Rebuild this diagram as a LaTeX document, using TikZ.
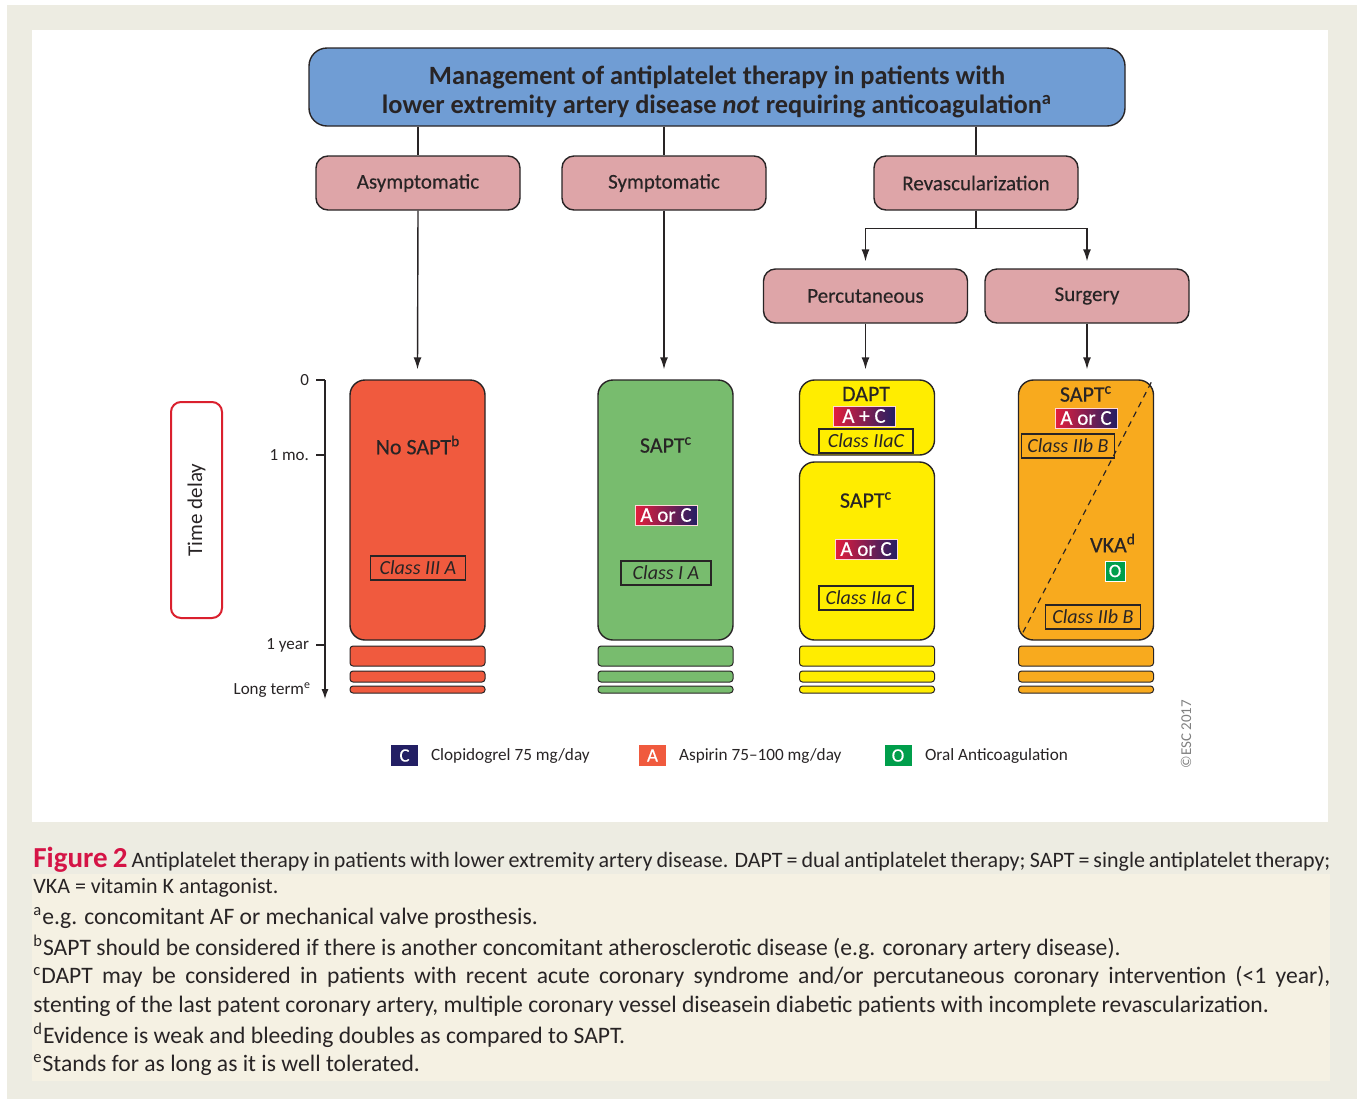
\documentclass[tikz,border=0pt]{standalone}
\usepackage{fontspec}
\setmainfont{Carlito}
\newfontfamily\medfont{Carlito}[FakeBold=0.35]
\usepackage{xcolor}
\usepackage{tikz}
\usetikzlibrary{shapes,arrows,positioning,calc,arrows.meta}
\definecolor{ink}{RGB}{40,36,37}
\definecolor{framebg}{RGB}{237,236,226}
\definecolor{creambg}{RGB}{245,241,227}
\definecolor{titleblue}{RGB}{112,157,212}
\definecolor{catpink}{RGB}{222,165,168}
\definecolor{redcol}{RGB}{240,90,62}
\definecolor{greencol}{RGB}{120,188,110}
\definecolor{yellowcol}{RGB}{255,237,0}
\definecolor{orangecol}{RGB}{248,170,30}
\definecolor{navy}{RGB}{35,31,100}
\definecolor{badgered}{RGB}{228,30,60}
\definecolor{oagreen}{RGB}{0,158,75}
\definecolor{delayred}{RGB}{218,32,46}
\definecolor{figred}{RGB}{213,20,70}

\begin{document}
\begin{tikzpicture}[x=0.5pt,y=-0.5pt,
    every node/.style={text=ink},
    link/.style={draw=ink, line width=0.7pt},
    arr/.style={link, -{Latex[length=6pt,width=4pt]}},
    catbox/.style={draw=ink, line width=0.7pt, fill=catpink, rounded corners=6pt,
        minimum width=102pt, minimum height=27pt, font=\medfont\fontsize{10.5}{12}\selectfont},
    blk/.style={draw=ink, line width=0.7pt, rounded corners=7.5pt, minimum width=67.5pt, inner sep=0pt},
    stripe/.style={draw=ink, line width=0.5pt, rounded corners=1.5pt, minimum width=67.5pt, inner sep=0pt},
    drug/.style={font=\medfont\fontsize{11}{12}\selectfont},
    badge/.style={left color=badgered, right color=navy, draw=pink!60, line width=0.4pt,
        text=white, minimum width=31pt, minimum height=10pt, inner sep=0pt, font=\medfont\fontsize{10.5}{10}\selectfont},
    classbox/.style={draw=ink, line width=0.6pt, minimum width=47.5pt, minimum height=12pt,
        inner sep=0pt, font=\fontsize{10}{10}\itshape\selectfont},
    keysq/.style={minimum width=13.5pt, minimum height=10.5pt, inner sep=0pt, text=white,
        font=\medfont\fontsize{9.5}{10}\selectfont},
    keytxt/.style={anchor=west, font=\fontsize{8.6}{10}\selectfont},
    tick/.style={anchor=east, font=\fontsize{8.5}{10}\selectfont},
    capline/.style={anchor=west, inner sep=0pt, font=\fontsize{11}{12}\selectfont},
    noteline/.style={capline, font=\fontsize{11.8}{12}\selectfont}
]
\useasboundingbox (0,0) rectangle (1357,1099);
\fill[white] (0,0) rectangle (1357,1099);
\fill[framebg] (7,5) rectangle (1357,1099);
\fill[white] (32,30) rectangle (1328,822);
\fill[creambg] (32,874) rectangle (1330,1081);

\node[draw=ink, line width=0.7pt, fill=titleblue, rounded corners=9pt, minimum width=408pt,
    minimum height=39pt] (title) at (717,87) {};
\node[align=center, font=\fontsize{13.2}{14.5}\bfseries\selectfont] (titletxt) at (717,92)
    {Management of antiplatelet therapy in patients with\\
     lower extremity artery disease \textit{not} requiring anticoagulation\textsuperscript{a}};

\node[catbox] (asym) at (418,183) {Asymptomatic};
\node[catbox] (sym) at (664,183) {Symptomatic};
\node[catbox] (revasc) at (976,183) {Revascularization};
\node[catbox] (perc) at (865.5,296) {Percutaneous};
\node[catbox] (surg) at (1087,296) {Surgery};

\node[blk, fill=redcol, minimum height=130pt] (redblk) at (417.5,510) {};
\node[blk, fill=greencol, minimum height=130pt] (greenblk) at (665.5,510) {};
\node[blk, fill=yellowcol, minimum height=37.5pt] (dapblk) at (867,417.5) {};
\node[blk, fill=yellowcol, minimum height=89pt] (sapblk) at (867,551) {};
\node[blk, fill=orangecol, minimum height=130pt] (surblk) at (1086,510) {};

\foreach \c/\col in {417.5/redcol, 665.5/greencol, 867/yellowcol, 1086/orangecol}
    \foreach \y/\h [count=\i] in {656/10pt, 676.5/5.5pt, 689.5/3.5pt}
        \node[stripe, fill=\col, minimum height=\h] (s\c-\i) at (\c,\y) {};

\draw[link] (title.south -| asym.north) -- (asym.north);
\draw[link] (title.south -| sym.north) -- (sym.north);
\draw[link] (title.south -| revasc.north) -- (revasc.north);
\draw[arr] (asym.south) -- ([yshift=5pt]redblk.north);
\draw[arr] (sym.south) -- ([yshift=5pt]greenblk.north -| sym.south);
\draw[arr, shorten >=3.5pt] (revasc.south) -- ++(0,18) -| (perc.north);
\draw[arr, shorten >=3.5pt] (revasc.south) -- ++(0,18) -| (surg.north);
\draw[arr] (perc.south) -- ([yshift=5pt]dapblk.north -| perc.south);
\draw[arr] (surg.south) -- ([yshift=5pt]surblk.north -| surg.south);

\node[drug] (nosapt) at (418,445) {No SAPT\textsuperscript{b}};
\node[classbox] (cls1) at (418,568) {Class III A};

\node[drug] (sapt2) at (666,445) {SAPT\textsuperscript{c}};
\node[badge] (bd2) at (666,515) {A or C};
\node[classbox, minimum width=45pt] (cls2) at (666,573) {Class I A};

\node[drug] (dapt3) at (866,394) {DAPT};
\node[badge] (bd3a) at (864,416) {A + C};
\node[classbox, minimum width=47pt] (cls3a) at (866,441) {Class IIaC};
\node[drug] (sapt3) at (866,500) {SAPT\textsuperscript{c}};
\node[badge] (bd3b) at (866,549) {A or C};
\node[classbox, minimum width=47pt] (cls3b) at (866,598) {Class IIa C};

\draw[ink, line width=0.6pt, dash pattern=on 3pt off 2.5pt]
    ($(surblk.north east)+(-3,3)$) -- ($(surblk.south west)+(5,-8)$);
\node[drug] (sapt4) at (1086,394) {SAPT\textsuperscript{c}};
\node[badge] (bd4) at (1086,418) {A or C};
\node[classbox, minimum width=46.5pt] (cls4a) at (1068,446) {Class IIb B};
\node[drug] (vka) at (1113,543) {VKA\textsuperscript{d}};
\node[fill=oagreen, draw=white, line width=0.4pt, minimum size=10pt, inner sep=0pt, text=white,
    font=\medfont\fontsize{9.5}{10}\selectfont] (oa4) at (1115,571) {O};
\node[classbox] (cls4b) at (1093,617) {Class IIb B};

\node[draw=delayred, line width=1pt, fill=white, rounded corners=5pt, minimum width=25.5pt,
    minimum height=108pt] (delay) at (196.5,510) {};
\node[rotate=90, font=\fontsize{10.5}{12}\selectfont] (delaytxt) at (delay) {Time delay};

\coordinate (ax0) at (325,380);
\coordinate (axend) at (325,699);
\draw[link, line width=0.6pt, -{Latex[length=5pt,width=3.5pt]}] (ax0) -- (axend);
\foreach \y/\t [count=\i] in {380/0, 455/1 mo., 645/1 year} {
    \node[tick] (tk\i) at (316,\y) {\t};
    \draw[link, line width=0.6pt] (tk\i.east) -- (tk\i.east -| ax0);
}
\node[tick] (tklong) at (318,690) {Long term\textsuperscript{e}};

\node[keysq, fill=navy] (keyc) at (404.5,755.5) {C};
\node[keytxt] (keyctxt) at (424,756) {Clopidogrel 75 mg/day};
\node[keysq, fill=redcol] (keya) at (652.5,755.5) {A};
\node[keytxt] (keyatxt) at (672,756) {Aspirin 75–100 mg/day};
\node[keysq, fill=oagreen] (keyo) at (898,755.5) {O};
\node[keytxt] (keyotxt) at (918,756) {Oral Anticoagulation};
\node[rotate=90, text=gray, font=\fontsize{7.5}{8}\selectfont] (esc) at (1186,734) {©ESC 2017};

\node[capline] (cap1) at (33,860) {\makebox[648.5pt][s]{\textcolor{figred}{\fontsize{14.5}{14}\bfseries\selectfont Figure 2} Antiplatelet therapy in patients with lower extremity artery disease. DAPT = dual antiplatelet therapy; SAPT = single antiplatelet therapy;}};
\node[capline] (cap2) at (33,888) {VKA = vitamin K antagonist.};
\node[noteline] (cap3) at (33,918) {\textsuperscript{a}e.g. concomitant AF or mechanical valve prosthesis.};
\node[noteline] (cap4) at (33,947) {\textsuperscript{b}SAPT should be considered if there is another concomitant atherosclerotic disease (e.g. coronary artery disease).};
\node[noteline] (cap5) at (33,977) {\makebox[648.5pt][s]{\textsuperscript{c}DAPT may be considered in patients with recent acute coronary syndrome and/or percutaneous coronary intervention (<1 year),}};
\node[noteline] (cap6) at (33,1006) {stenting of the last patent coronary artery, multiple coronary vessel diseasein diabetic patients with incomplete revascularization.};
\node[noteline] (cap7) at (33,1035) {\textsuperscript{d}Evidence is weak and bleeding doubles as compared to SAPT.};
\node[noteline] (cap8) at (33,1065) {\textsuperscript{e}Stands for as long as it is well tolerated.};
\end{tikzpicture}
\end{document}
